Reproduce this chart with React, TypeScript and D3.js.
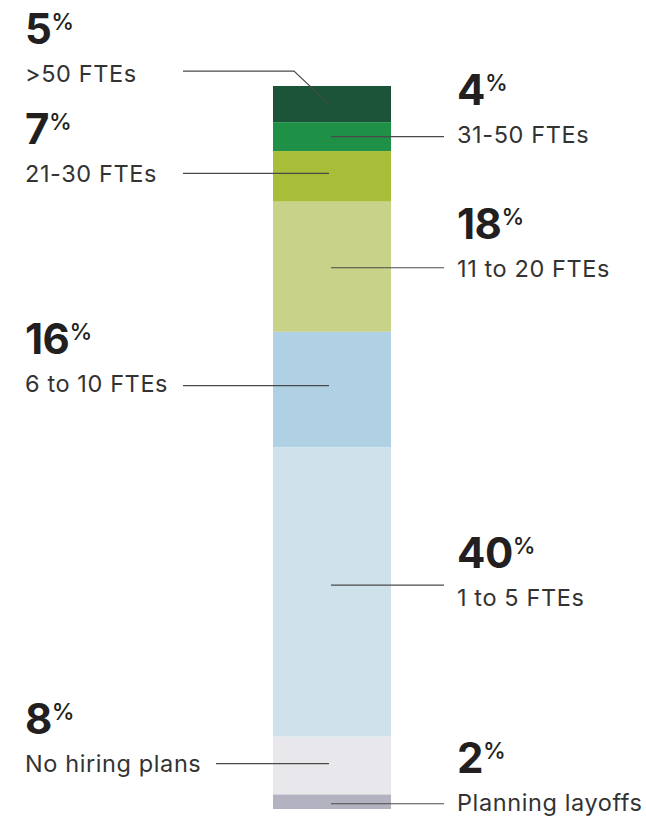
import React from 'react';
import * as d3 from 'd3';

// hiring plans, top of the bar to the bottom
const categories = ['>50 FTEs', '31-50 FTEs', '21-30 FTEs', '11 to 20 FTEs', '6 to 10 FTEs', '1 to 5 FTEs', 'No hiring plans', 'Planning layoffs'];
const shares = [5, 4, 7, 18, 16, 40, 8, 2];
const colors = ['#1b5438', '#1e9146', '#a8bd38', '#c8d389', '#afd1e3', '#cfe2eb', '#e8e7ec', '#b3b2c0'];

// label placement: side, leader-line nudge and label nudge from the segment middle
const sides = ['left', 'right', 'left', 'right', 'left', 'right', 'left', 'right'];
const lineNudges = [-33, 0, -3, 1, -4, -7, -2, 2];
const labelNudges = [-22, 6, 6, 10, 2, 14, 6, 9];

const W = 646, H = 818;
const barX = 273, barW = 118;
const leftX = 25, rightX = 457;

const App = () => {
  const total = d3.sum(shares);
  const y = d3.scaleLinear().domain([0, total]).range([86, 809]);
  const cum = d3.cumsum(shares);
  const starts = shares.map((s, i) => cum[i] - s);
  const cx = barX + barW / 2;

  return (
    <svg width={W} height={H} style={{ position: 'absolute', left: 0, top: 0 }}>
      {shares.map((s, i) => (
        <rect key={'r' + i} x={barX} y={y(starts[i])} width={barW}
          height={y(cum[i]) - y(starts[i])} fill={colors[i]} />
      ))}
      {shares.map((s, i) => {
        const mid = (y(starts[i]) + y(cum[i])) / 2;
        const ly = mid + lineNudges[i];
        const left = sides[i] === 'left';
        const tx = left ? leftX : rightX;
        const labelBase = mid + labelNudges[i];
        const pctBase = labelBase - 38;
        let path;
        if (left) {
          const x0 = i === 6 ? 216 : 183;
          path = Math.abs(ly - mid) > 10
            ? `M${x0},${ly}H${cx - 38}L${cx - 3},${mid}`
            : `M${x0},${ly}H${cx - 3}`;
        } else {
          path = `M${cx - 1},${ly}H444`;
        }
        return (
          <g key={'l' + i}>
            <path d={path} fill="none" stroke="#4a4a4a" strokeWidth={1.2} />
            <text x={tx} y={pctBase} fontFamily="Inter, sans-serif" fill="#231f20">
              <tspan fontSize={42} fontWeight={700} letterSpacing={-0.5}>{s}</tspan>
              <tspan fontSize={23} fontWeight={500} dx={0} dy={-14}>%</tspan>
            </text>
            <text x={tx} y={labelBase} fontFamily="Inter, sans-serif" fontSize={23.5}
              letterSpacing={0.6} fill="#333">{categories[i]}</text>
          </g>
        );
      })}
    </svg>
  );
};

export default App;
